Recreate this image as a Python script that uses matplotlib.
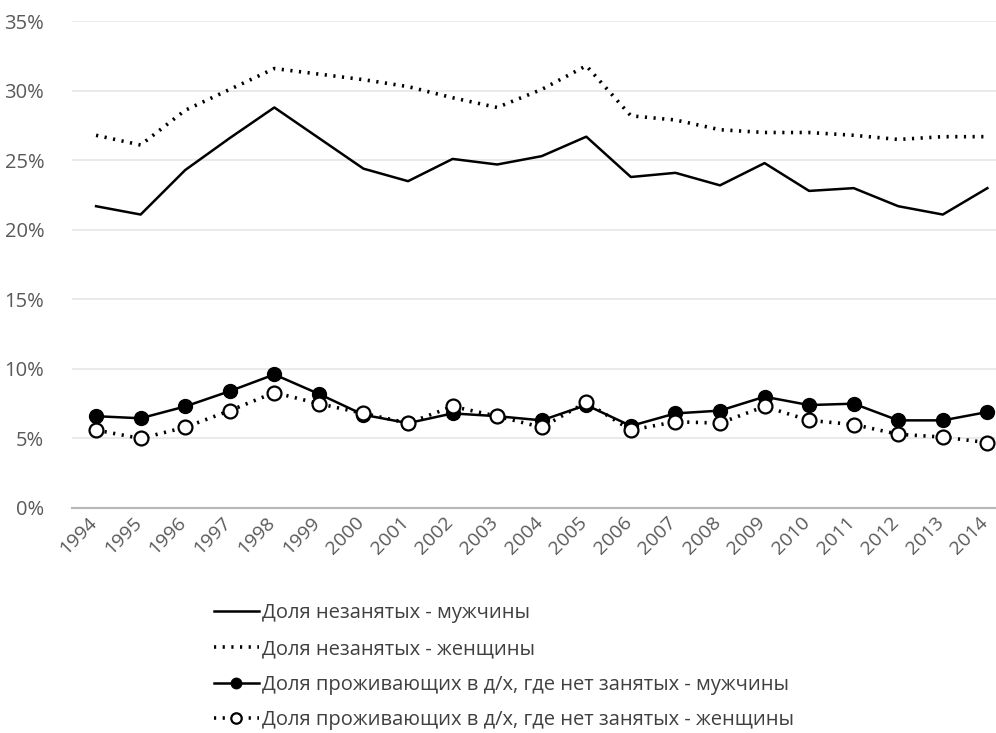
import matplotlib.pyplot as plt
from matplotlib.ticker import FuncFormatter
from matplotlib.transforms import ScaledTranslation
import numpy as np

plt.rcParams['font.family'] = ['Open Sans', 'DejaVu Sans']

years = [str(y) for y in range(1994, 2015)]

# доли, %
men_unemp = [21.7, 21.1, 24.3, 26.6, 28.8, 26.6, 24.4, 23.5, 25.1, 24.7, 25.3,
             26.7, 23.8, 24.1, 23.2, 24.8, 22.8, 23.0, 21.7, 21.1, 23.0]
women_unemp = [26.8, 26.1, 28.6, 30.1, 31.6, 31.2, 30.8, 30.3, 29.5, 28.8, 30.1,
               31.8, 28.2, 27.9, 27.2, 27.0, 27.0, 26.8, 26.5, 26.7, 26.7]
men_hh = [6.6, 6.45, 7.3, 8.4, 9.6, 8.2, 6.7, 6.1, 6.8, 6.6, 6.3,
          7.4, 5.9, 6.8, 7.0, 8.0, 7.4, 7.5, 6.3, 6.3, 6.9]
women_hh = [5.6, 5.0, 5.8, 7.0, 8.3, 7.5, 6.8, 6.1, 7.3, 6.6, 5.8,
            7.6, 5.6, 6.2, 6.1, 7.3, 6.3, 6.0, 5.3, 5.1, 4.7]

labels = ["Доля незанятых - мужчины",
          "Доля незанятых - женщины",
          "Доля проживающих в д/х, где нет занятых - мужчины",
          "Доля проживающих в д/х, где нет занятых - женщины"]

x = np.arange(len(years))
dots = (0, (0.6, 1.8))

fig = plt.figure(figsize=(9.96, 7.33), dpi=100)
ax = fig.add_axes([0.0723, 0.307, 0.928, 0.664])

l1, = ax.plot(x, men_unemp, color='black', lw=1.8, label=labels[0])
l2, = ax.plot(x, women_unemp, color='black', lw=2.6, linestyle=dots,
              label=labels[1])
l3, = ax.plot(x, men_hh, color='black', lw=1.8, marker='o', markersize=10,
              markerfacecolor='black', label=labels[2])
l4, = ax.plot(x, women_hh, color='black', lw=2.6, linestyle=dots, marker='o',
              markersize=10, markerfacecolor='white', markeredgewidth=1.6,
              label=labels[3])

ax.set_ylim(0, 35)
ax.set_xlim(-0.54, 20.2)
ax.set_yticks(np.arange(0, 36, 5))
ax.yaxis.set_major_formatter(FuncFormatter(lambda v, p: f"{v:.0f}%"))
ax.set_xticks(x)
ax.set_xticklabels(years, rotation=45, ha='right', rotation_mode='anchor')
ax.tick_params(axis='both', length=0, colors='#595959')
ax.tick_params(axis='y', pad=20, labelsize=14.5)
ax.tick_params(axis='x', pad=4, labelsize=14)
# сдвиг подписей лет чуть влево, чтобы 2014 не обрезался
shift = ScaledTranslation(-6 / 72, 0, fig.dpi_scale_trans)
for lab in ax.get_xticklabels():
    lab.set_transform(lab.get_transform() + shift)
ax.grid(axis='y', color='#e6e6e6', lw=1.2)
ax.set_axisbelow(True)
for s in ['top', 'right', 'left']:
    ax.spines[s].set_visible(False)
ax.spines['bottom'].set_color('#b8b8b8')
ax.spines['bottom'].set_linewidth(1.5)

leg = fig.legend(handles=[l1, l2, l3, l4], loc='upper left',
                 bbox_to_anchor=(0.207, 0.188), frameon=False, fontsize=14.5,
                 handlelength=2.2, handletextpad=0.15, labelspacing=0.78,
                 borderaxespad=0, markerscale=0.75)
for t in leg.get_texts():
    t.set_color('#404040')

fig.savefig("out.png", dpi=100)
